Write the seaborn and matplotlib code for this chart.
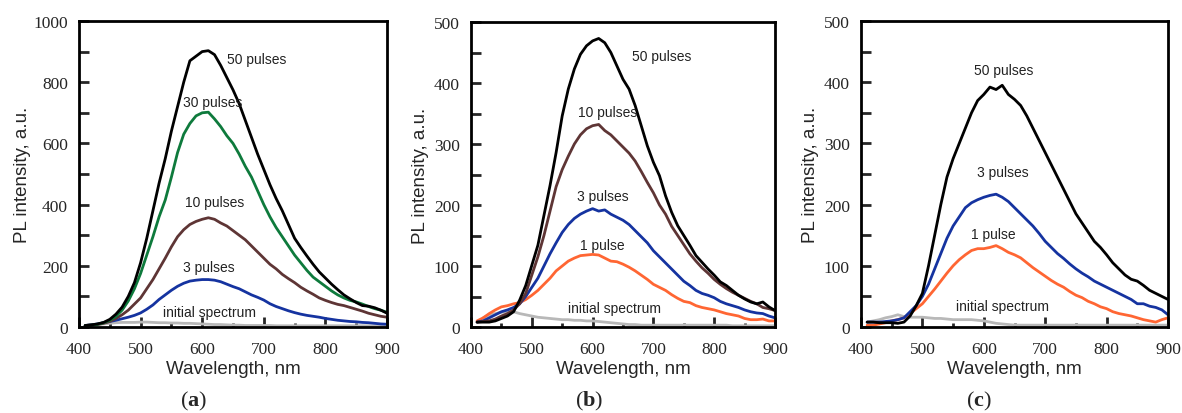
import numpy as np
import pandas as pd
import matplotlib
matplotlib.use("Agg")
import matplotlib.pyplot as plt
from matplotlib.ticker import MultipleLocator
import seaborn as sns

sns.set_style("ticks")
plt.rcParams['font.family'] = ['Liberation Sans', 'DejaVu Sans']
plt.rcParams['mathtext.fontset'] = 'custom'
plt.rcParams['mathtext.rm'] = 'Liberation Serif'
plt.rcParams['mathtext.bf'] = 'Liberation Serif:bold'

# ---------------- data ----------------
wavelength = list(range(410, 901, 10))

# panel (a)
a_50 = [5, 7, 10, 15, 25, 42, 65, 100, 145, 210, 290, 380, 470, 550, 640, 720, 800, 870, 885, 900,
        903, 890, 855, 815, 775, 730, 675, 620, 565, 515, 465, 420, 380, 335, 290, 260, 232, 205, 180, 160,
        140, 122, 105, 92, 80, 70, 68, 63, 55, 45]
a_30 = [5, 6, 9, 14, 22, 35, 55, 85, 125, 175, 235, 295, 360, 415, 490, 570, 630, 665, 690, 700,
        702, 680, 655, 625, 600, 565, 525, 490, 445, 400, 360, 325, 295, 265, 235, 210, 185, 163, 148, 133,
        118, 105, 95, 87, 82, 75, 67, 60, 55, 48]
a_10 = [5, 6, 8, 12, 18, 28, 40, 55, 75, 95, 125, 155, 190, 225, 262, 295, 318, 335, 345, 352,
        357, 352, 340, 330, 315, 300, 285, 265, 245, 225, 205, 190, 172, 158, 145, 130, 118, 107, 95, 87,
        80, 74, 70, 64, 58, 52, 45, 40, 35, 32]
a_3 = [5, 7, 10, 14, 18, 22, 27, 32, 38, 46, 58, 72, 90, 105, 120, 133, 143, 150, 153, 155,
       155, 153, 148, 140, 132, 125, 115, 105, 97, 88, 76, 67, 60, 53, 47, 42, 38, 35, 32, 28,
       25, 22, 20, 18, 17, 15, 14, 12, 10, 9]
a_init = [5, 6, 8, 10, 12, 14, 15, 15, 15, 16, 16, 15, 14, 14, 13, 13, 12, 12, 11, 10,
          9, 8, 8, 7, 6, 6, 5, 5, 5, 5, 5, 4, 4, 4, 4, 4, 4, 4, 4, 4,
          4, 4, 4, 4, 4, 4, 4, 4, 4, 4]

# panel (b)
b_50 = [8, 8, 8, 10, 14, 18, 25, 44, 68, 101, 134, 183, 232, 286, 346, 390, 423, 447, 461, 469,
        473, 466, 450, 428, 406, 390, 363, 330, 297, 270, 248, 215, 188, 166, 150, 134, 117, 106, 95, 85,
        74, 68, 60, 52, 46, 41, 38, 41, 33, 27]
b_10 = [8, 9, 10, 13, 18, 22, 28, 38, 55, 85, 115, 150, 190, 230, 258, 280, 300, 315, 325, 330,
        332, 322, 315, 305, 295, 285, 272, 255, 237, 220, 200, 185, 165, 150, 135, 120, 108, 97, 88, 78,
        70, 63, 57, 52, 47, 42, 38, 32, 30, 27]
b_3 = [8, 10, 15, 20, 25, 28, 32, 38, 50, 65, 80, 100, 120, 138, 155, 168, 178, 185, 190, 194,
       190, 192, 185, 180, 175, 168, 158, 148, 138, 125, 115, 105, 95, 85, 75, 68, 60, 55, 52, 48,
       42, 38, 35, 32, 28, 25, 23, 22, 18, 15]
b_1 = [10, 15, 22, 28, 33, 35, 38, 40, 45, 52, 60, 70, 80, 92, 100, 108, 113, 117, 118, 119,
       118, 113, 108, 107, 103, 98, 92, 85, 78, 70, 65, 60, 53, 47, 42, 40, 35, 32, 30, 28,
       25, 22, 20, 18, 14, 12, 12, 13, 10, 10]
b_init = [np.nan, 15, 20, 22, 24, 25, 25, 22, 20, 18, 16, 15, 14, 13, 12, 12, 11, 11, 10, 10,
          9, 8, 7, 6, 5, 4, 4, 3, 3, 3, 3, 3, 3, 3, 3, 3, 3, 3, 3, 3,
          3, 3, 2, 2, 2, 2, 2, 2, 2, 2]

# panel (c)
c_50 = [8, 8, 7, 7, 7, 6, 8, 18, 35, 55, 100, 150, 200, 245, 275, 300, 325, 350, 370, 380,
        392, 388, 395, 380, 372, 362, 345, 325, 305, 285, 265, 245, 225, 205, 185, 170, 155, 140, 130, 118,
        105, 95, 85, 78, 75, 68, 60, 55, 50, 45]
c_3 = [8, 8, 8, 9, 10, 12, 15, 25, 35, 50, 70, 95, 120, 145, 165, 180, 195, 203, 208, 212,
       215, 217, 212, 205, 195, 185, 175, 165, 153, 140, 130, 120, 112, 103, 95, 88, 82, 75, 70, 65,
       60, 55, 50, 45, 38, 38, 34, 32, 28, 20]
c_1 = [3, 3, 5, 7, 10, 12, 15, 22, 30, 38, 50, 62, 75, 88, 100, 110, 118, 125, 128, 128,
       130, 133, 128, 122, 118, 113, 105, 97, 90, 83, 76, 70, 65, 58, 52, 48, 42, 38, 33, 30,
       25, 22, 20, 18, 15, 12, 10, 8, 12, 15]
c_init = [8, 10, 12, 15, 17, 20, 17, 16, 16, 16, 15, 14, 14, 13, 12, 12, 12, 12, 11, 10,
          8, 6, 5, 4, 3, 3, 3, 3, 3, 3, 3, 3, 3, 3, 3, 3, 3, 3, 3, 3,
          3, 3, 3, 3, 3, 3, 3, 3, 3, 3]

panel_labels = ['a', 'b', 'c']
y_max = [1000, 500, 500]
y_label_step = [200, 100, 100]
y_tick_step = [100, 50, 50]
x_ticks = [400, 500, 600, 700, 800, 900]

BLACK = '#000000'
GREEN = '#0e7a3c'
BROWN = '#5e3535'
BLUE = '#1533a0'
ORANGE = '#ff6633'
GRAY = '#b8b8b8'

panels = [
    [("initial spectrum", a_init, GRAY), ("3 pulses", a_3, BLUE), ("10 pulses", a_10, BROWN),
     ("30 pulses", a_30, GREEN), ("50 pulses", a_50, BLACK)],
    [("initial spectrum", b_init, GRAY), ("1 pulse", b_1, ORANGE), ("3 pulses", b_3, BLUE),
     ("10 pulses", b_10, BROWN), ("50 pulses", b_50, BLACK)],
    [("initial spectrum", c_init, GRAY), ("1 pulse", c_1, ORANGE), ("3 pulses", c_3, BLUE),
     ("50 pulses", c_50, BLACK)],
]

annotations = [
    [("50 pulses", 640, 876), ("30 pulses", 569, 735), ("10 pulses", 572, 408),
     ("3 pulses", 569, 196), ("initial spectrum", 536, 49)],
    [("50 pulses", 665, 445), ("10 pulses", 576, 353), ("3 pulses", 574, 214),
     ("1 pulse", 579, 134), ("initial spectrum", 560, 31)],
    [("50 pulses", 584, 420), ("3 pulses", 589, 253), ("1 pulse", 579, 152),
     ("initial spectrum", 555, 34)],
]

# ---------------- figure ----------------
W, H = 1182, 414
fig = plt.figure(figsize=(W / 100, H / 100), dpi=100)
fig.patch.set_facecolor('white')

ax_px = [(79, 22, 387, 328), (471, 23, 775, 328), (861, 22, 1168, 328)]
ylab_off = [-0.185, -0.165, -0.163]
panel_x = [194, 589, 979]

for i in range(3):
    l, t, r, b = ax_px[i]
    ax = fig.add_axes([l / W, (H - b) / H, (r - l) / W, (b - t) / H])
    for name, vals, col in panels[i]:
        sns.lineplot(x=wavelength, y=vals, color=col, linewidth=2.0, ax=ax,
                     estimator=None, sort=False)
    ax.set_xlim(400, 900)
    ax.set_ylim(0, y_max[i])
    ax.set_xticks(x_ticks)
    ax.xaxis.set_minor_locator(MultipleLocator(50))
    ax.yaxis.set_major_locator(MultipleLocator(y_label_step[i]))
    ax.yaxis.set_minor_locator(MultipleLocator(y_tick_step[i]))
    ax.tick_params(axis='both', which='major', direction='in', length=7, width=2,
                   labelsize=12.5, top=False, right=False)
    ax.tick_params(axis='x', which='major', pad=10)
    ax.tick_params(axis='y', which='major', pad=8)
    ax.tick_params(axis='x', which='minor', direction='in', length=3, width=2, top=False)
    ax.tick_params(axis='y', which='minor', direction='in', length=7, width=2, right=False)
    for lab in ax.get_xticklabels() + ax.get_yticklabels():
        lab.set_fontfamily('Liberation Serif')
    for sp in ax.spines.values():
        sp.set_linewidth(2)
        sp.set_color('black')
        sp.set_visible(True)
    ax.set_xlabel("Wavelength, nm", fontsize=13.5, family='Liberation Sans', va='center')
    ax.set_ylabel("PL intensity, a.u.", fontsize=13.5, family='Liberation Sans', va='center')
    ax.xaxis.set_label_coords(0.5, -0.137)
    ax.yaxis.set_label_coords(ylab_off[i], 0.5)
    for txt, x, y in annotations[i]:
        ax.text(x, y, txt, fontsize=10, family='Liberation Sans', color='#222222',
                ha='left', va='center')
    fig.text(panel_x[i] / W, (H - 401) / H, r'($\mathbf{%s}$)' % panel_labels[i],
             fontsize=16, family='Liberation Serif', ha='center', va='center')

fig.savefig("out.png", dpi=100, facecolor='white')
